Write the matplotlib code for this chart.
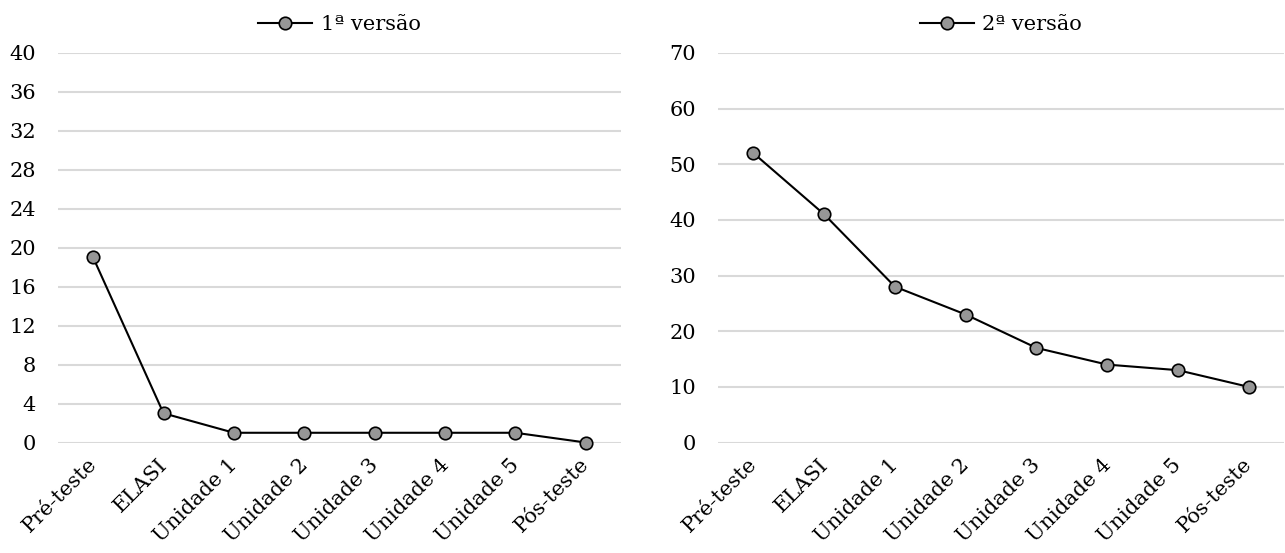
import matplotlib.pyplot as plt
from matplotlib.transforms import offset_copy

categorias = ["Pré-teste", "ELASI", "Unidade 1", "Unidade 2", "Unidade 3",
              "Unidade 4", "Unidade 5", "Pós-teste"]
versao1 = [19, 3, 1, 1, 1, 1, 1, 0]
versao2 = [52, 41, 28, 23, 17, 14, 13, 10]

plt.rcParams['font.family'] = ['DejaVu Serif']

fig = plt.figure(figsize=(12.85, 5.53), dpi=100)
ax1 = fig.add_axes([0.0451, 0.1998, 0.4381, 0.7044])
ax2 = fig.add_axes([0.5588, 0.1998, 0.4405, 0.7044])

def desenhar(ax, valores, rotulo, ymax, passo):
    ax.plot(range(len(categorias)), valores, color="black", lw=1.5,
            marker="o", markersize=9, markerfacecolor="#969696",
            markeredgecolor="black", markeredgewidth=1.2, label=rotulo,
            zorder=3, clip_on=False)
    ax.set_xlim(-0.5, len(categorias) - 0.5)
    ax.set_ylim(0, ymax)
    ax.set_yticks(range(0, ymax + 1, passo))
    ax.set_xticks(range(len(categorias)))
    ax.set_xticklabels(categorias, rotation=45, ha="right",
                       rotation_mode="anchor")
    ax.grid(axis="y", color="#d9d9d9", lw=1.5)
    ax.set_axisbelow(True)
    for s in ax.spines.values():
        s.set_visible(False)
    ax.tick_params(length=0, labelsize=15)
    ax.tick_params(axis="y", pad=16)
    ax.tick_params(axis="x", pad=6)
    for lab in ax.get_xticklabels():
        lab.set_transform(offset_copy(lab.get_transform(), fig=fig,
                                      x=-6, y=-4, units="dots"))
    ax.legend(loc="lower center", bbox_to_anchor=(0.5, 1.0), frameon=False,
              fontsize=15, handlelength=2.6, handletextpad=0.4,
              borderaxespad=0.5)

desenhar(ax1, versao1, "1ª versão", 40, 4)
desenhar(ax2, versao2, "2ª versão", 70, 10)

fig.savefig("out.png", dpi=100)
